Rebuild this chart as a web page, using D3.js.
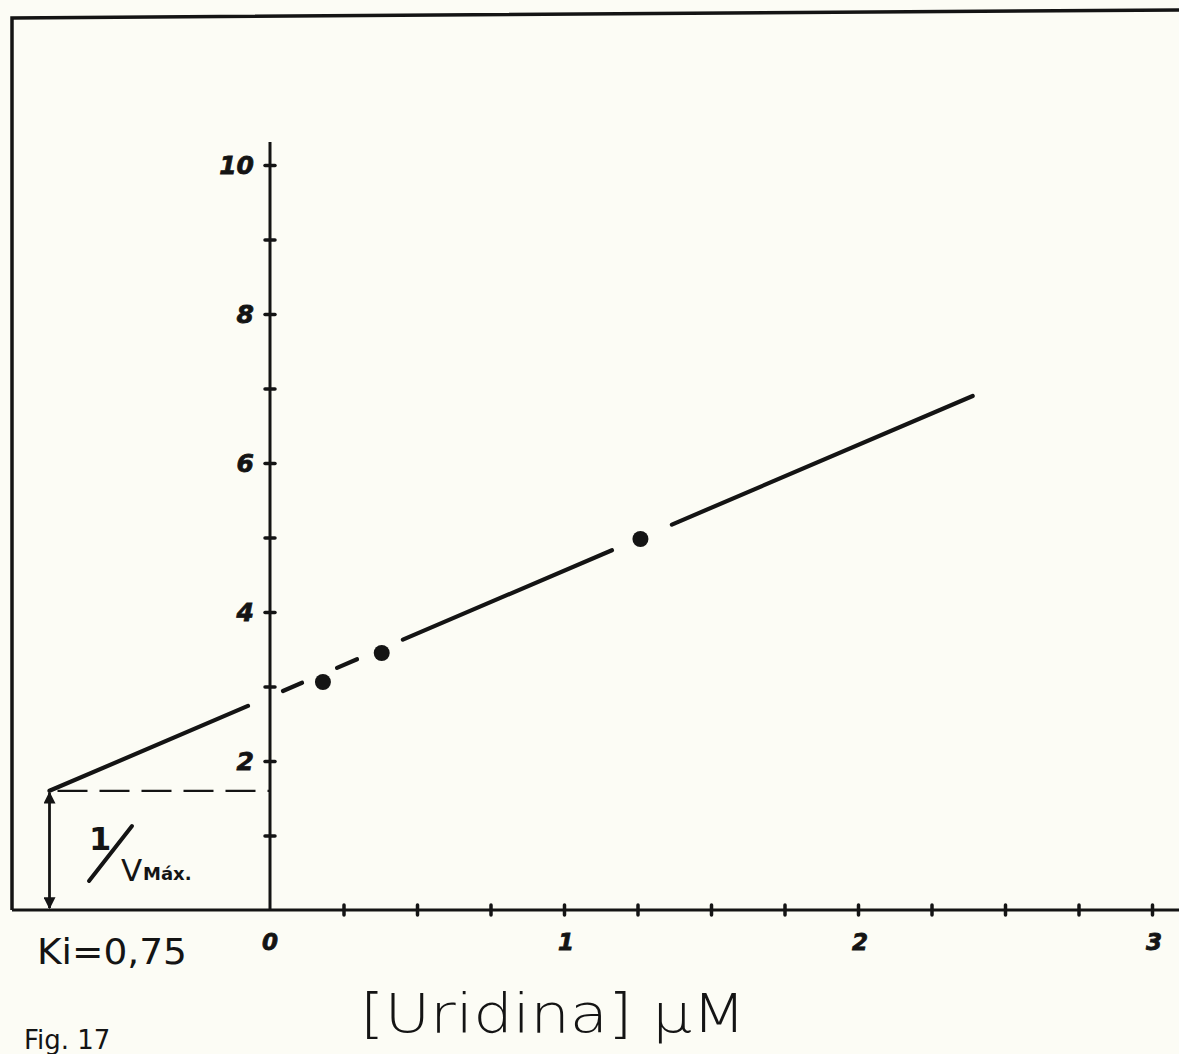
<!DOCTYPE html>
<html>
<head>
<meta charset="utf-8">
<script src="https://cdn.jsdelivr.net/npm/d3@7"></script>
<style>
  html, body { margin: 0; padding: 0; background: #fcfcf5; }
  svg { display: block; }
</style>
</head>
<body>
<script>
// Dixon plot: 1/v against inhibitor concentration [Uridina]
const xTickValues = [0.25, 0.5, 0.75, 1, 1.25, 1.5, 1.75, 2, 2.25, 2.5, 2.75, 3];
const xTickLabels = [0, 1, 2, 3];
const yTickValues = [1, 2, 3, 4, 5, 6, 7, 8, 9, 10];
const yTickLabels = [2, 4, 6, 8, 10];

// measured points (µM, 1/v)
const pointX = [0.18, 0.38, 1.26];
const pointY = [3.06, 3.45, 4.98];

// regression line: from the Ki intercept to its drawn end
const ki = 0.75;          // Ki = 0,75
const invVmax = 1.6;      // 1/Vmáx
const fitEndX = 2.39;
const fitEndY = 6.9;
// pieces of the drawn line (x ranges, µM); it breaks around each point
const fitPieces = [[-0.75, -0.075], [0.044, 0.109], [0.228, 0.296], [0.452, 1.163], [1.367, 2.39]];

const W = 1179, H = 1054;
const ink = "#141414";

const svg = d3.select("body").append("svg")
  .attr("width", W).attr("height", H);

const x = d3.scaleLinear().domain([0, 3]).range([270, 1152]);
const y = d3.scaleLinear().domain([0, 10]).range([910, 165]);

// paper frame (top and left edges)
svg.append("path")
  .attr("d", `M12,${y(0)} L12,18 L${W},10`)
  .attr("fill", "none").attr("stroke", ink).attr("stroke-width", 3.5);

// x axis across the whole sheet
const xAxisG = svg.append("g").attr("transform", `translate(0,${y(0)})`);
xAxisG.append("line")
  .attr("x1", 12).attr("x2", W).attr("y1", 0).attr("y2", 0)
  .attr("stroke", ink).attr("stroke-width", 3);
xAxisG.call(d3.axisBottom(x).tickValues(xTickValues).tickSize(0).tickFormat(""))
  .call(g => g.select(".domain").remove());
xAxisG.selectAll(".tick line").attr("y1", -5).attr("y2", 5)
  .attr("stroke", ink).attr("stroke-width", 3.5).attr("stroke-linecap", "round");

// y axis
const yAxisG = svg.append("g").attr("transform", `translate(${x(0)},0)`);
yAxisG.append("line")
  .attr("x1", 0).attr("x2", 0).attr("y1", y(0)).attr("y2", y(10.31))
  .attr("stroke", ink).attr("stroke-width", 3);
yAxisG.call(d3.axisLeft(y).tickValues(yTickValues).tickSize(0).tickFormat(""))
  .call(g => g.select(".domain").remove());
yAxisG.selectAll(".tick line").attr("x1", -5).attr("x2", 5)
  .attr("stroke", ink).attr("stroke-width", 3.5).attr("stroke-linecap", "round");

// tick labels
svg.append("g").selectAll("text").data(yTickLabels).join("text")
  .attr("x", x(0) - 16).attr("y", d => y(d) + 9)
  .attr("text-anchor", "end")
  .attr("font-family", "DejaVu Sans").attr("font-weight", "bold").attr("font-style", "italic")
  .attr("font-size", 25).attr("fill", ink)
  .attr("stroke", ink).attr("stroke-width", 0.8)
  .text(d => d);

svg.append("g").selectAll("text").data(xTickLabels).join("text")
  .attr("x", d => x(d) + (d === 0 ? 0 : 2)).attr("y", y(0) + 40)
  .attr("text-anchor", "middle")
  .attr("font-family", "DejaVu Sans").attr("font-weight", "bold").attr("font-style", "italic")
  .attr("font-size", 23).attr("fill", ink)
  .attr("stroke", ink).attr("stroke-width", 0.8)
  .text(d => d);

// dashed level of 1/Vmáx up to the y axis
svg.append("line")
  .attr("x1", x(-ki) + 8).attr("x2", x(0))
  .attr("y1", y(invVmax)).attr("y2", y(invVmax))
  .attr("stroke", ink).attr("stroke-width", 2.2)
  .attr("stroke-dasharray", "30 12");

// double arrow marking 1/Vmáx
const defs = svg.append("defs");
defs.append("marker").attr("id", "arrowhead")
  .attr("viewBox", "0 0 10 10").attr("refX", 9).attr("refY", 5)
  .attr("markerWidth", 14).attr("markerHeight", 12)
  .attr("markerUnits", "userSpaceOnUse")
  .attr("orient", "auto-start-reverse")
  .append("path").attr("d", "M0,0 L10,5 L0,10 Z").attr("fill", ink);

svg.append("line")
  .attr("x1", x(-ki)).attr("x2", x(-ki))
  .attr("y1", y(invVmax) + 2).attr("y2", y(0) - 2)
  .attr("stroke", ink).attr("stroke-width", 2.8)
  .attr("marker-start", "url(#arrowhead)")
  .attr("marker-end", "url(#arrowhead)");

// regression line, drawn in pieces
const slope = (fitEndY - invVmax) / (fitEndX + ki);
const fitY = v => invVmax + slope * (v + ki);
svg.append("g").selectAll("line").data(fitPieces).join("line")
  .attr("x1", d => x(d[0])).attr("y1", d => y(fitY(d[0])))
  .attr("x2", d => x(d[1])).attr("y2", d => y(fitY(d[1])))
  .attr("stroke", ink).attr("stroke-width", 4.2).attr("stroke-linecap", "round");

// data points
svg.append("g").selectAll("circle").data(d3.range(pointX.length)).join("circle")
  .attr("cx", i => x(pointX[i])).attr("cy", i => y(pointY[i]))
  .attr("r", 8).attr("fill", ink);

// annotation 1/Vmáx
const ann = svg.append("g").attr("fill", ink);
ann.append("text").attr("x", 89).attr("y", 850)
  .attr("font-family", "DejaVu Sans").attr("font-weight", "bold")
  .attr("font-size", 32).text("1");
ann.append("line").attr("x1", 89).attr("y1", 881).attr("x2", 132).attr("y2", 826)
  .attr("stroke", ink).attr("stroke-width", 4).attr("stroke-linecap", "round");
ann.append("text").attr("x", 121).attr("y", 881)
  .attr("font-family", "DejaVu Sans").attr("font-size", 31).text("V");
ann.append("text").attr("x", 143).attr("y", 880)
  .attr("font-family", "DejaVu Sans").attr("font-weight", "bold")
  .attr("font-size", 18).text("Máx.");

// Ki label
svg.append("text").attr("x", 37).attr("y", 964)
  .attr("font-family", "DejaVu Sans").attr("font-size", 36)
  .attr("textLength", 150).attr("lengthAdjust", "spacingAndGlyphs")
  .attr("fill", ink).text("Ki=0,75");

// axis title
svg.append("text").attr("x", 360).attr("y", 1032)
  .attr("font-family", "DejaVu Sans").attr("font-weight", 200)
  .attr("font-size", 54)
  .attr("textLength", 386).attr("lengthAdjust", "spacingAndGlyphs")
  .attr("fill", ink).text("[Uridina] µM");

// figure number at the foot of the sheet
svg.append("text").attr("x", 24).attr("y", 1049)
  .attr("font-family", "DejaVu Sans").attr("font-size", 26)
  .attr("fill", ink).text("Fig. 17");
</script>
</body>
</html>
